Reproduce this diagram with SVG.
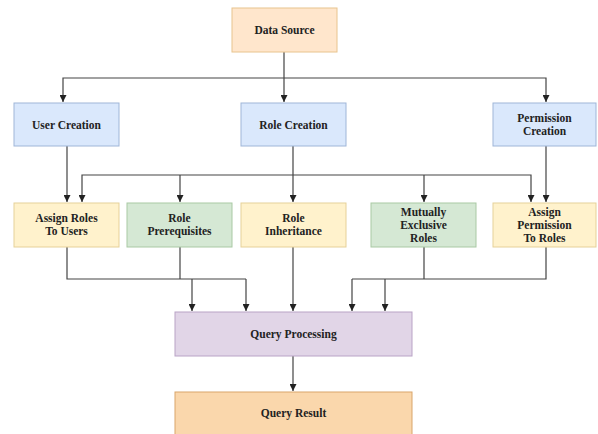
<svg xmlns="http://www.w3.org/2000/svg" width="598" height="434" viewBox="0 0 598 434">
<defs>
<marker id="ah" viewBox="0 0 10 10" refX="10" refY="5" markerWidth="7" markerHeight="7" markerUnits="userSpaceOnUse" orient="auto"><path d="M0,0 L10,5 L0,10 Z" fill="#222"/></marker>
<style>
.n{stroke-width:1}
.orange{fill:#ffe6cc;stroke:#e8c48e}
.blue{fill:#dae8fc;stroke:#9fb6d8}
.yellow{fill:#fff2cc;stroke:#e6d199}
.green{fill:#d5e8d4;stroke:#a9c9a4}
.purple{fill:#e1d5e7;stroke:#b9a3c6}
.dorange{fill:#fad7ac;stroke:#d9a56a}
text{font-family:"Liberation Serif","Times New Roman","DejaVu Serif",serif;font-weight:bold;font-size:11.5px;fill:#222;text-anchor:middle}
.c path{fill:none;stroke:#444;stroke-width:1.2}
.c path.a{marker-end:url(#ah)}
</style>
</defs>
<rect width="598" height="434" fill="#fff"/>
<g class="c" id="connectors">
<path class="a" d="M284,52 V102"/>
<path class="a" d="M284,78 H63 V102"/>
<path class="a" d="M284,78 H546 V102"/>
<path class="a" d="M67,146 V202"/>
<path class="a" d="M293,146 V202"/>
<path class="a" d="M546,146 V202"/>
<path class="a" d="M293,175 H82 V202"/>
<path class="a" d="M180,175 V202"/>
<path class="a" d="M293,175 H531 V202"/>
<path class="a" d="M424,175 V202"/>
<path d="M67,247 V279 H246"/>
<path d="M180,247 V279"/>
<path class="a" d="M192,279 V311"/>
<path class="a" d="M246,279 V311"/>
<path class="a" d="M293,247 V311"/>
<path d="M546,247 V279 H352"/>
<path d="M424,247 V279"/>
<path class="a" d="M352,279 V311"/>
<path class="a" d="M385,279 V311"/>
<path class="a" d="M293,356 V391"/>
</g>
<g id="data-source"><rect class="n orange" x="232" y="8" width="105" height="44"/><text x="284.5" y="34">Data Source</text></g>
<g id="user-creation"><rect class="n blue" x="14" y="103" width="105" height="43"/><text x="66.5" y="128.5">User Creation</text></g>
<g id="role-creation"><rect class="n blue" x="241" y="103" width="105" height="43"/><text x="293.5" y="128.5">Role Creation</text></g>
<g id="permission-creation"><rect class="n blue" x="493" y="103" width="103" height="43"/><text x="544.5" y="121.5">Permission</text><text x="544.5" y="134.5">Creation</text></g>
<g id="assign-roles"><rect class="n yellow" x="14" y="203" width="105" height="44"/><text x="66.5" y="221.5">Assign Roles</text><text x="66.5" y="234.5">To Users</text></g>
<g id="role-prerequisites"><rect class="n green" x="127" y="203" width="105" height="44"/><text x="179.5" y="221.5">Role</text><text x="179.5" y="234.5">Prerequisites</text></g>
<g id="role-inheritance"><rect class="n yellow" x="241" y="203" width="105" height="44"/><text x="293.5" y="221.5">Role</text><text x="293.5" y="234.5">Inheritance</text></g>
<g id="mutually-exclusive"><rect class="n green" x="371" y="203" width="105" height="44"/><text x="423.5" y="215.5">Mutually</text><text x="423.5" y="228.5">Exclusive</text><text x="423.5" y="241.5">Roles</text></g>
<g id="assign-permission"><rect class="n yellow" x="493" y="203" width="103" height="44"/><text x="544.5" y="215.5">Assign</text><text x="544.5" y="228.5">Permission</text><text x="544.5" y="241.5">To Roles</text></g>
<g id="query-processing"><rect class="n purple" x="175" y="312" width="237" height="44"/><text x="293.5" y="337.5">Query Processing</text></g>
<g id="query-result"><rect class="n dorange" x="175" y="392" width="237" height="50"/><text x="293.5" y="417">Query Result</text></g>
</svg>
